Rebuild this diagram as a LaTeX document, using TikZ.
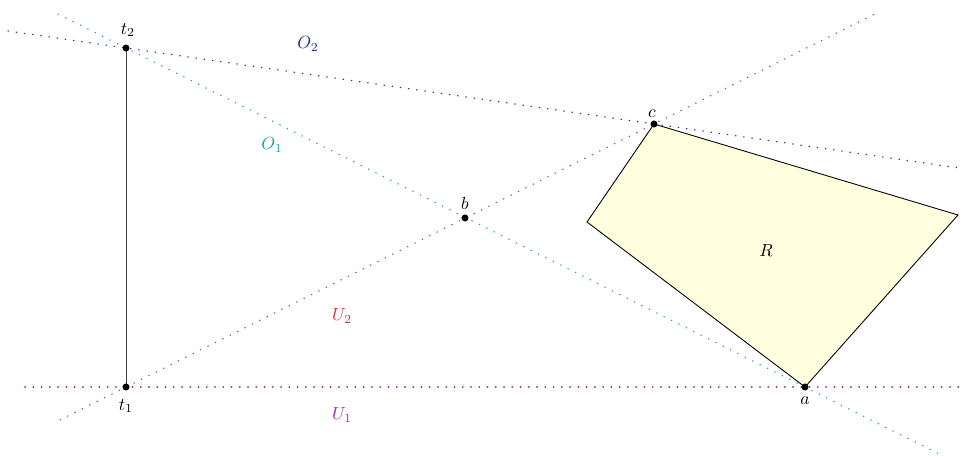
\documentclass[tikz,border=0pt]{standalone}
\usetikzlibrary{calc}
\definecolor{oone}{RGB}{30,160,160}
\definecolor{otwo}{RGB}{40,40,150}
\definecolor{utwo}{RGB}{190,60,70}
\definecolor{uone}{RGB}{170,40,170}
\definecolor{regfill}{RGB}{255,255,224}
\tikzset{
  pt/.style={circle,fill=black,inner sep=0pt,minimum size=4pt},
  ray/.style={line width=0.7pt,line cap=round,dash pattern=on 0.3pt off 4.4pt},
  lbl/.style={inner sep=1pt}
}
\begin{document}
\begin{tikzpicture}[x=0.02cm,y=-0.02cm]
\useasboundingbox (0,0) rectangle (965,457);
\coordinate (t2) at (126,48);
\coordinate (t1) at (126,387);
\coordinate (b) at (465,218);
\coordinate (c) at (654,124);
\coordinate (a) at (805,387);
\coordinate (r2) at (958,215);
\coordinate (r4) at (587,222);
% region
\draw[fill=regfill,line width=0.5pt] (c) -- (r2) -- (a) -- (r4) -- cycle;
\node[lbl] (R) at (766,250) {$R$};
% lines
\draw[ray,draw=oone] ($(t2)!-0.1!(a)$) -- ($(a)!-0.2!(t2)$);
\draw[ray,draw=otwo] ($(t2)!-0.2235!(c)$) -- ($(c)!-0.576!(t2)$);
\draw[ray,draw=utwo] ($(t1)!-0.125!(c)$) -- ($(c)!-0.4186!(t1)$);
\draw[ray,draw=uone] ($(t1)!-0.149!(a)$) -- ($(a)!-0.228!(t1)$);
% segment
\draw[line width=0.5pt,black!75] (t1) -- (t2);
% points
\node[pt] (pt2) at (t2) {};
\node[pt] (pt1) at (t1) {};
\node[pt] (pb) at (b) {};
\node[pt] (pc) at (c) {};
\node[pt] (pa) at (a) {};
\node[lbl] (lt2) at (128,30) {$t_2$};
\node[lbl] (lt1) at (126,406) {$t_1$};
\node[lbl] (lb) at (465,203) {$b$};
\node[lbl] (lc) at (652,114) {$c$};
\node[lbl] (la) at (805,401) {$a$};
% line labels
\node[lbl,text=otwo] (LO2) at (308,44) {$O_2$};
\node[lbl,text=oone] (LO1) at (272,145) {$O_1$};
\node[lbl,text=utwo] (LU2) at (342,316) {$U_2$};
\node[lbl,text=uone] (LU1) at (342,415) {$U_1$};
\end{tikzpicture}
\end{document}
